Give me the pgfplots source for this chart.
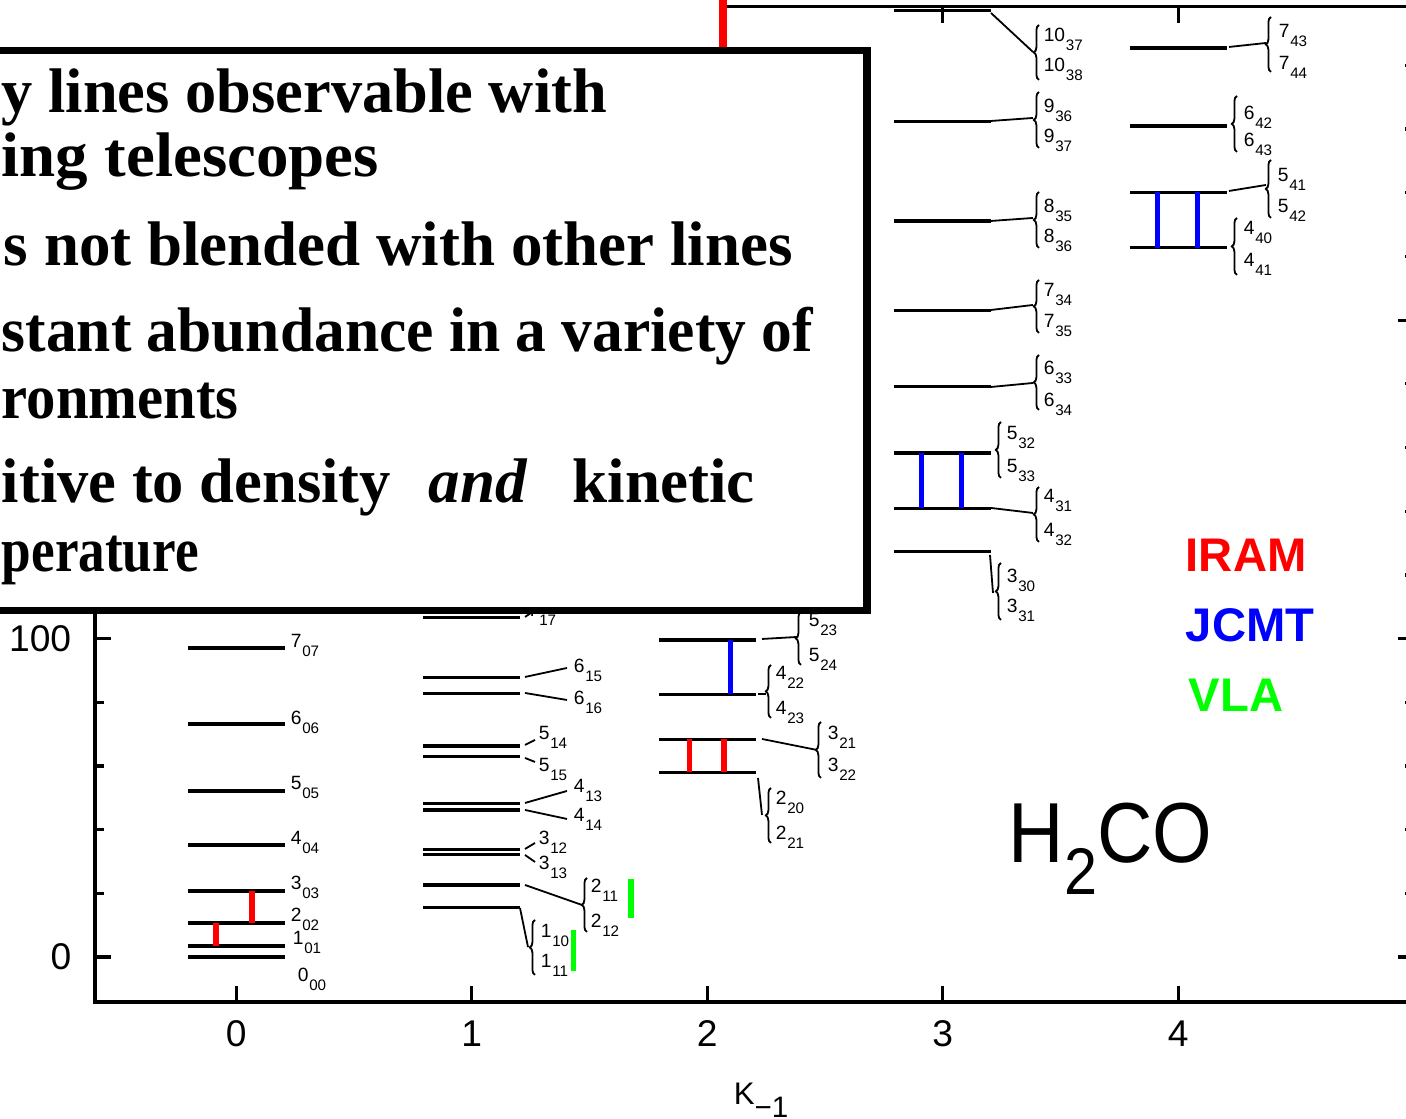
\documentclass[border=0pt]{standalone}
\usepackage{fontspec}
\setmainfont{Liberation Sans}
\newfontfamily\boxfont{Liberation Serif}
\usepackage{pgfplots}
\pgfplotsset{compat=1.18}
\usetikzlibrary{decorations.pathreplacing}

\newcommand{\lv}[2]{#1\hspace{0.2pt}\raisebox{-2.1pt}{\fontsize{3.8}{4}\selectfont #2}}
\newcommand{\fitw}[2]{\resizebox{#1}{\height}{#2}}

\pgfplotstableread{
K E
0 0
0 3.45
0 10.7
0 20.7
0 35.2
0 52.1
0 73.2
0 97.0
1 15.5
1 22.6
1 32.3
1 33.8
1 46.2
1 48.3
1 62.9
1 66.3
1 82.8
1 87.8
1 106.7
2 58.0
2 68.4
2 82.5
2 99.5
3 127.3
3 140.9
3 158.3
3 179.1
3 203.1
3 231.1
3 262.3
3 297.3
4 222.8
4 240.1
4 261.0
4 285.5
}\levels

\begin{document}
\begin{tikzpicture}
\begin{axis}[
  at={(23.75pt,29.25pt)}, anchor=south west,
  scale only axis, width=329.7pt, height=248.8pt,
  xmin=-0.6, xmax=5.0, ymin=-14.1, ymax=298.4,
  axis line style={line width=0.8pt},
  xtick={0,1,2,3,4}, ytick={0,100,200}, yticklabels={0,100,{}},
  minor ytick={20,40,60,80,120,140,160,180,220,240,260,280},
  tick align=inside,
  major tick length=4pt, minor tick length=2.25pt,
  every tick/.style={black, line width=0.8pt},
  tick label style={font=\fontsize{9.3}{10}\selectfont},
  /pgf/number format/assume math mode=true,
  yticklabel style={inner sep=0pt, xshift=-5.75pt},
  xticklabel style={inner sep=0pt, yshift=-4.5pt},
  clip=false,
]
\addplot[only marks, mark=*, mark size=0pt, mark options={draw=none, fill=none},
  error bars/.cd, x dir=both, x fixed=0.206, error mark=none,
  error bar style={black, line width=0.85pt}] table[x=K, y=E] {\levels};
% IRAM
\addplot[red, line width=1.4pt] coordinates {(-0.085,3.45) (-0.085,10.7)};
\addplot[red, line width=1.4pt] coordinates {(0.067,10.7) (0.067,20.7)};
\addplot[red, line width=1.4pt] coordinates {(1.925,58.0) (1.925,68.4)};
\addplot[red, line width=1.4pt] coordinates {(2.072,58.0) (2.072,68.4)};
% JCMT
\addplot[blue, line width=1.3pt] coordinates {(2.098,82.5) (2.098,99.5)};
\addplot[blue, line width=1.3pt] coordinates {(2.909,140.9) (2.909,158.3)};
\addplot[blue, line width=1.3pt] coordinates {(3.079,140.9) (3.079,158.3)};
\addplot[blue, line width=1.3pt] coordinates {(3.911,222.8) (3.911,240.1)};
\addplot[blue, line width=1.3pt] coordinates {(4.081,222.8) (4.081,240.1)};
% VLA
\addplot[green, line width=1.3pt] coordinates {(1.432,-4.3) (1.432,8.5)};
\addplot[green, line width=1.3pt] coordinates {(1.676,12.2) (1.676,24.5)};
\end{axis}

\begin{scope}[x=0.25pt, y=-0.25pt, yshift=279.75pt,
  lab/.style={anchor=base west, inner sep=0pt, font=\fontsize{4.8}{5}\selectfont},
  ld/.style={line width=0.45pt},
  br/.style={decorate, decoration={brace, amplitude=1.3pt}, line width=0.45pt}]
% K=0 labels
\node[lab] at (290,648) {\lv{7}{07}};
\node[lab] at (290,725) {\lv{6}{06}};
\node[lab] at (290,790) {\lv{5}{05}};
\node[lab] at (290,845) {\lv{4}{04}};
\node[lab] at (290,890) {\lv{3}{03}};
\node[lab] at (290,922) {\lv{2}{02}};
\node[lab] at (292,945) {\lv{1}{01}};
\node[lab] at (297,982) {\lv{0}{00}};
% K=1
\draw[ld] (525,617) -- (531,613);
\node[lab] at (527,617) {\lv{7}{17}};
\draw[ld] (525,677) -- (567,668);
\draw[ld] (525,693) -- (567,700);
\node[lab] at (573,673) {\lv{6}{15}};
\node[lab] at (573,705) {\lv{6}{16}};
\draw[ld] (525,745) -- (535,740);
\draw[ld] (525,758) -- (535,762);
\node[lab] at (538,740) {\lv{5}{14}};
\node[lab] at (538,772) {\lv{5}{15}};
\draw[ld] (525,803) -- (567,791);
\draw[ld] (525,810) -- (567,819);
\node[lab] at (573,793) {\lv{4}{13}};
\node[lab] at (573,822) {\lv{4}{14}};
\draw[ld] (525,849) -- (535,843);
\draw[ld] (525,855) -- (535,862);
\node[lab] at (538,845) {\lv{3}{12}};
\node[lab] at (538,870) {\lv{3}{13}};
\draw[ld] (525,885) -- (582,905);
\draw[br] (587,932) -- (587,878);
\node[lab] at (590,893) {\lv{2}{11}};
\node[lab] at (590,928) {\lv{2}{12}};
\draw[ld] (520,908) -- (528,947);
\draw[br] (535,975) -- (535,920);
\node[lab] at (540,938) {\lv{1}{10}};
\node[lab] at (540,968) {\lv{1}{11}};
% K=2
\draw[ld] (762,639) -- (797,637);
\draw[br] (801,665) -- (801,612);
\node[lab] at (808,627) {\lv{5}{23}};
\node[lab] at (808,662) {\lv{5}{24}};
\draw[ld] (758,694) -- (766,694);
\draw[br] (771,718) -- (771,665);
\node[lab] at (775,680) {\lv{4}{22}};
\node[lab] at (775,715) {\lv{4}{23}};
\draw[ld] (762,739) -- (817,750);
\draw[br] (821,778) -- (821,722);
\node[lab] at (827,740) {\lv{3}{21}};
\node[lab] at (827,772) {\lv{3}{22}};
\draw[ld] (758,778) -- (762,815);
\draw[br] (771,843) -- (771,788);
\node[lab] at (775,805) {\lv{2}{20}};
\node[lab] at (775,840) {\lv{2}{21}};
% K=3
\draw[ld] (990,555) -- (993,593);
\draw[br] (1001,620) -- (1001,563);
\node[lab] at (1006,583) {\lv{3}{30}};
\node[lab] at (1006,613) {\lv{3}{31}};
\draw[ld] (991,508) -- (1033,513);
\draw[br] (1039,542) -- (1039,487);
\node[lab] at (1043,503) {\lv{4}{31}};
\node[lab] at (1043,537) {\lv{4}{32}};
\draw[br] (1001,478) -- (1001,422);
\node[lab] at (1006,440) {\lv{5}{32}};
\node[lab] at (1006,473) {\lv{5}{33}};
\draw[ld] (991,387) -- (1033,383);
\draw[br] (1039,410) -- (1039,355);
\node[lab] at (1043,375) {\lv{6}{33}};
\node[lab] at (1043,407) {\lv{6}{34}};
\draw[ld] (991,310) -- (1033,305);
\draw[br] (1039,333) -- (1039,280);
\node[lab] at (1043,297) {\lv{7}{34}};
\node[lab] at (1043,328) {\lv{7}{35}};
\draw[ld] (991,221) -- (1033,218);
\draw[br] (1039,248) -- (1039,192);
\node[lab] at (1043,213) {\lv{8}{35}};
\node[lab] at (1043,243) {\lv{8}{36}};
\draw[ld] (991,121) -- (1033,118);
\draw[br] (1039,148) -- (1039,92);
\node[lab] at (1043,113) {\lv{9}{36}};
\node[lab] at (1043,143) {\lv{9}{37}};
\draw[ld] (991,13) -- (1033,52);
\draw[br] (1039,80) -- (1039,25);
\node[lab] at (1043,42) {\lv{10}{37}};
\node[lab] at (1043,72) {\lv{10}{38}};
% K=4
\draw[ld] (1229,47) -- (1266,43);
\draw[br] (1271,72) -- (1271,17);
\node[lab] at (1278,38) {\lv{7}{43}};
\node[lab] at (1278,70) {\lv{7}{44}};
\draw[br] (1237,152) -- (1237,96);
\node[lab] at (1243,120) {\lv{6}{42}};
\node[lab] at (1243,147) {\lv{6}{43}};
\draw[ld] (1229,191) -- (1266,185);
\draw[br] (1271,218) -- (1271,160);
\node[lab] at (1277,182) {\lv{5}{41}};
\node[lab] at (1277,213) {\lv{5}{42}};
\draw[br] (1237,275) -- (1237,218);
\node[lab] at (1243,235) {\lv{4}{40}};
\node[lab] at (1243,267) {\lv{4}{41}};
% axis label
\node[anchor=base west, inner sep=0pt, font=\fontsize{7.8}{8}\selectfont] at (733,1105)
  {K\raisebox{-3.2pt}{\fontsize{7.4}{8}\selectfont −1}};
% telescopes
\node[anchor=base west, inner sep=0pt, text=red, font=\fontsize{11.8}{12}\selectfont\bfseries] at (1185,572) {IRAM};
\node[anchor=base west, inner sep=0pt, text=blue, font=\fontsize{11.8}{12}\selectfont\bfseries] at (1185,642) {JCMT};
\node[anchor=base west, inner sep=0pt, text=green, font=\fontsize{11.8}{12}\selectfont\bfseries] at (1188,712) {VLA};
% molecule
\node[anchor=base west, inner sep=0pt] at (1008,863)
  {\scalebox{0.9}[1]{\fontsize{21.3}{22}\selectfont H\raisebox{-8pt}{\fontsize{16.5}{17}\selectfont 2}CO}};
% overlays
\fill[white] (-60,-60) rectangle (722.7,300);
\draw[red, line width=1.93pt] (722.7,-60) -- (722.7,300);
\draw[black, line width=1.83pt, fill=white] (-60,50.3) rectangle (867,610.5);
\begin{scope}[every node/.style={inner sep=0pt, anchor=base west, font=\boxfont\fontsize{15.75}{16}\selectfont\bfseries}]
\node at (1,113) {\fitw{151.25pt}{y lines observable with}};
\node at (1,177) {\fitw{94.25pt}{ing telescopes}};
\node at (3,266) {\fitw{197.25pt}{s not blended with other lines}};
\node at (1,352) {\fitw{202.75pt}{stant abundance in a variety of}};
\node at (1,419) {\fitw{59.25pt}{ronments}};
\node at (1,503) {\fitw{97.25pt}{itive to density}};
\node at (428,503) {\itshape and};
\node at (572,503) {kinetic};
\node at (1,572) {\fitw{49.25pt}{perature}};
\end{scope}
\end{scope}
\pgfresetboundingbox
\path[use as bounding box] (0,0) rectangle (351.5pt,279.75pt);
\end{tikzpicture}
\end{document}
